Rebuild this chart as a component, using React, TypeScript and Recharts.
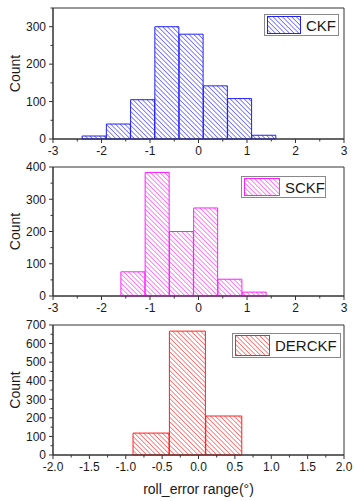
import React from 'react';
import { BarChart, Bar, XAxis, YAxis, Legend, ReferenceArea } from 'recharts';

// bin centres (bin width 0.5) and counts
const ckfBins = [-2.15, -1.65, -1.15, -0.65, -0.15, 0.35, 0.85, 1.35];
const ckfCounts = [8, 40, 105, 300, 280, 142, 108, 10];

const sckfBins = [-1.35, -0.85, -0.35, 0.15, 0.65, 1.15];
const sckfCounts = [75, 383, 200, 273, 52, 12];

const derckfBins = [-0.65, -0.15, 0.35];
const derckfCounts = [118, 667, 210];

// tick positions (major + minor) and which of them get a label
const wideXTicks = [-3, -2.5, -2, -1.5, -1, -0.5, 0, 0.5, 1, 1.5, 2, 2.5, 3];
const wideXLabels = [-3, -2, -1, 0, 1, 2, 3];
const narrowXTicks = [-2, -1.75, -1.5, -1.25, -1, -0.75, -0.5, -0.25, 0, 0.25, 0.5, 0.75, 1, 1.25, 1.5, 1.75, 2];
const narrowXLabels = [-2, -1.5, -1, -0.5, 0, 0.5, 1, 1.5, 2];

const ckfYTicks = [0, 50, 100, 150, 200, 250, 300, 350];
const ckfYLabels = [0, 100, 200, 300];
const sckfYTicks = [0, 50, 100, 150, 200, 250, 300, 350, 400];
const sckfYLabels = [0, 100, 200, 300, 400];
const derckfYTicks = [0, 50, 100, 150, 200, 250, 300, 350, 400, 450, 500, 550, 600, 650, 700];
const derckfYLabels = [0, 100, 200, 300, 400, 500, 600, 700];

const FONT = '"Liberation Sans", Arial, sans-serif';
const AXIS = '#333';
const TEXT = '#1a1a1a';
const TICK_SIZE = 5;
const TICK_MARGIN = 2;

const isIn = (list: number[], v: number) => list.some((m) => Math.abs(m - v) < 1e-6);

function XTick({ x, y, payload, labels, decimals }: any) {
  const v = payload.value as number;
  const major = isIn(labels, v);
  const axisY = y - TICK_SIZE - TICK_MARGIN;
  return (
    <g>
      <line x1={x} x2={x} y1={axisY} y2={axisY + (major ? 4 : 2.5)} stroke={AXIS} />
      {major && (
        <text x={x} y={axisY + 16} textAnchor="middle" fontSize={12} fontFamily={FONT} fill={TEXT}>
          {v.toFixed(decimals)}
        </text>
      )}
    </g>
  );
}

function YTick({ x, y, payload, labels }: any) {
  const v = payload.value as number;
  const major = isIn(labels, v);
  const axisX = x + TICK_SIZE + TICK_MARGIN;
  return (
    <g>
      <line x1={axisX - (major ? 4 : 2.5)} x2={axisX} y1={y} y2={y} stroke={AXIS} />
      {major && (
        <text x={axisX - 7} y={y + 4.3} textAnchor="end" fontSize={12} fontFamily={FONT} fill={TEXT}>
          {v}
        </text>
      )}
    </g>
  );
}

function LegendBox({ name, color, patternId, width, height, swatch }: any) {
  return (
    <div
      style={{
        width,
        height,
        boxSizing: 'border-box',
        border: '1px solid #888',
        background: '#fff',
        display: 'flex',
        alignItems: 'center',
        paddingLeft: 2,
        fontFamily: FONT,
        fontSize: 15,
        color: TEXT,
      }}
    >
      <svg width={swatch} height={height - 4} style={{ display: 'block' }}>
        <rect x={0.5} y={0.5} width={swatch - 1} height={height - 5} fill={`url(#${patternId})`} stroke={color} />
      </svg>
      <span style={{ marginLeft: 5, lineHeight: 1 }}>{name}</span>
    </div>
  );
}

function Panel({
  top,
  height,
  marginTop,
  xAxisHeight,
  bins,
  counts,
  name,
  color,
  patternId,
  xDomain,
  xTicks,
  xLabels,
  decimals,
  yMax,
  yTicks,
  yLabels,
  legend,
  xTitle,
}: any) {
  const data = bins.map((b: number, i: number) => ({ x: b, count: counts[i] }));
  return (
    <div style={{ position: 'absolute', left: 0, top }}>
      <BarChart
        width={354}
        height={height}
        data={data}
        margin={{ top: marginTop, right: 10, bottom: 0, left: 0 }}
        barCategoryGap={0}
        barGap={0}
      >
        <XAxis
          dataKey="x"
          type="number"
          domain={xDomain}
          ticks={xTicks}
          interval={0}
          height={xAxisHeight}
          tickSize={TICK_SIZE}
          tickMargin={TICK_MARGIN}
          tickLine={false}
          axisLine={{ stroke: AXIS }}
          tick={(p: any) => <XTick {...p} labels={xLabels} decimals={decimals} />}
          label={
            xTitle
              ? {
                  value: xTitle,
                  position: 'insideBottom',
                  offset: 7,
                  style: { fontSize: 14, fontFamily: FONT, fill: TEXT },
                }
              : undefined
          }
        />
        <YAxis
          type="number"
          domain={[0, yMax]}
          ticks={yTicks}
          interval={0}
          width={53}
          tickSize={TICK_SIZE}
          tickMargin={TICK_MARGIN}
          tickLine={false}
          axisLine={{ stroke: AXIS }}
          tick={(p: any) => <YTick {...p} labels={yLabels} />}
          label={{
            value: 'Count',
            angle: -90,
            position: 'center',
            dx: -11,
            style: { fontSize: 14, fontFamily: FONT, fill: TEXT },
          }}
        />
        <ReferenceArea x1={xDomain[0]} x2={xDomain[1]} y1={0} y2={yMax} fill="none" stroke={AXIS} strokeOpacity={1} />
        <Bar
          dataKey="count"
          name={name}
          fill={`url(#${patternId})`}
          stroke={color}
          strokeWidth={1}
          isAnimationActive={false}
        />
        <Legend
          layout="horizontal"
          verticalAlign="middle"
          align="center"
          wrapperStyle={{ left: legend.left, top: legend.top, width: 'auto' }}
          content={() => (
            <LegendBox
              name={name}
              color={color}
              patternId={patternId}
              width={legend.width}
              height={legend.height}
              swatch={legend.swatch}
            />
          )}
        />
      </BarChart>
    </div>
  );
}

function Hatch({ id, color }: { id: string; color: string }) {
  return (
    <pattern id={id} patternUnits="userSpaceOnUse" width={3.3} height={3.3} patternTransform="rotate(-45)">
      <line x1={0} y1={0} x2={0} y2={3.3} stroke={color} strokeWidth={1.1} />
    </pattern>
  );
}

export default function App() {
  return (
    <div style={{ position: 'absolute', left: 0, top: 0, width: 354, height: 501, background: '#fff' }}>
      <svg width={0} height={0} style={{ position: 'absolute' }}>
        <defs>
          <Hatch id="hatch-blue" color="#1f1fff" />
          <Hatch id="hatch-magenta" color="#ff1fff" />
          <Hatch id="hatch-red" color="#ff2020" />
        </defs>
      </svg>
      <Panel
        top={0}
        height={160}
        marginTop={8}
        xAxisHeight={21}
        bins={ckfBins}
        counts={ckfCounts}
        name="CKF"
        color="#2020ff"
        patternId="hatch-blue"
        xDomain={[-3, 3]}
        xTicks={wideXTicks}
        xLabels={wideXLabels}
        decimals={0}
        yMax={350}
        yTicks={ckfYTicks}
        yLabels={ckfYLabels}
        legend={{ left: 264, top: 14, width: 75, height: 22, swatch: 34 }}
      />
      <Panel
        top={158}
        height={160}
        marginTop={9}
        xAxisHeight={22}
        bins={sckfBins}
        counts={sckfCounts}
        name="SCKF"
        color="#ff20ff"
        patternId="hatch-magenta"
        xDomain={[-3, 3]}
        xTicks={wideXTicks}
        xLabels={wideXLabels}
        decimals={0}
        yMax={400}
        yTicks={sckfYTicks}
        yLabels={sckfYLabels}
        legend={{ left: 241, top: 18, width: 85, height: 22, swatch: 36 }}
      />
      <Panel
        top={318}
        height={183}
        marginTop={7}
        xAxisHeight={46}
        bins={derckfBins}
        counts={derckfCounts}
        name="DERCKF"
        color="#ff2020"
        patternId="hatch-red"
        xDomain={[-2, 2]}
        xTicks={narrowXTicks}
        xLabels={narrowXLabels}
        decimals={1}
        yMax={700}
        yTicks={derckfYTicks}
        yLabels={derckfYLabels}
        xTitle="roll_error range(°)"
        legend={{ left: 232, top: 15, width: 109, height: 25, swatch: 35 }}
      />
    </div>
  );
}
